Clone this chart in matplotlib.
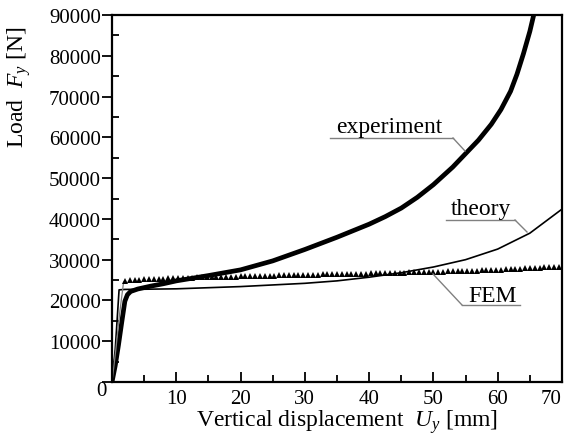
import matplotlib
matplotlib.use("Agg")
import matplotlib.pyplot as plt
import numpy as np

plt.rcParams['font.family'] = ['Liberation Serif', 'DejaVu Serif']
plt.rcParams['mathtext.fontset'] = 'custom'
plt.rcParams['mathtext.rm'] = 'Liberation Serif'
plt.rcParams['mathtext.it'] = 'Liberation Serif:italic'

# Experiment
exp_x = [0, 0.5, 1.0, 1.5, 2.0, 2.4, 2.9, 4, 6, 8, 10, 15, 20, 25, 30, 35, 40, 42.5, 45, 47.5,
         50, 53, 55, 57, 59, 60.5, 62, 63, 64, 65, 65.6]
exp_y = [0, 4000, 9000, 14500, 19800, 21400, 22200, 22800, 23500, 24100, 24800, 26100, 27500,
         29700, 32500, 35500, 38700, 40550, 42650, 45300, 48400, 52700, 56000, 59300, 63200,
         66800, 71300, 75500, 80500, 86000, 90000]

# Theory
th_x = [0, 0.5, 1.1, 2, 5, 10, 20, 30, 35, 40, 45, 50, 55, 60, 65, 70]
th_y = [0, 8000, 22600, 22700, 22750, 22850, 23400, 24200, 24800, 25700, 26800, 28200,
        30000, 32600, 36500, 42400]

# FEM
fem_x = [2, 5, 10, 20, 30, 37, 50, 60, 70]
fem_y = [24800, 25200, 25500, 25900, 26300, 26500, 27000, 27500, 28300]
fem_init_x = [0, 0.6, 1.2, 1.8]
fem_init_y = [0, 8000, 17000, 24500]

fig = plt.figure(figsize=(5.7, 4.35), dpi=100)
ax = fig.add_axes([112/570, 1-383/435, 450/570, 367/435])

ax.plot(exp_x, exp_y, color='black', lw=3.4, solid_capstyle='butt', solid_joinstyle='round')
ax.plot(th_x, th_y, color='black', lw=1.2)
ax.plot(fem_init_x, fem_init_y, color='gray', lw=0.9)
fx = np.arange(2, 70.01, 0.75)
fy = np.interp(fx, fem_x, fem_y)
ax.plot(fx, fy, linestyle='none', marker='^', ms=4.2, color='black', mew=0)

ax.set_xlim(0, 70)
ax.set_ylim(0, 90000)
ax.set_xticks(np.arange(0, 71, 10))
ax.set_xticklabels([''] + [str(v) for v in range(10, 71, 10)])
ax.get_xticklabels()[-1].set_horizontalalignment('right')
ax.set_xticks(np.arange(5, 70, 10), minor=True)
ax.set_yticks(np.arange(0, 90001, 10000))
ax.set_yticklabels([''] + [str(v) for v in range(10000, 90001, 10000)])
ax.set_yticks(np.arange(5000, 90000, 10000), minor=True)
ax.tick_params(axis='x', which='major', direction='in', length=7, width=1.3, labelsize=15, pad=5)
ax.tick_params(axis='x', which='minor', direction='in', length=5, width=1.3)
ax.tick_params(axis='y', which='major', direction='out', length=7, width=1.3, labelsize=15, pad=1)
ax.tick_params(axis='y', which='minor', direction='in', length=5, width=1.3)
for s in ax.spines.values():
    s.set_linewidth(1.6)

ax.text(-0.012, -0.022, '0', transform=ax.transAxes, fontsize=15, ha='right', va='center')

ax.set_xlabel(r'Vertical displacement  $U_y$ [mm]', fontsize=17)
ax.xaxis.set_label_coords(0.523, -0.068)
ax.set_ylabel(r'Load  $F_y$ [N]', fontsize=17)
ax.yaxis.set_label_coords(-0.176, 0.805)

# annotations
def px2data(px, py):
    return ((px - 112) / 450 * 70, (383 - py) / 367 * 90000)

def label(text, tx, ty, ul_x0, ul_x1, ul_y, lead):
    x, y = px2data(tx, ty)
    ax.text(x, y, text, fontsize=17, ha='center', va='baseline')
    a0 = px2data(ul_x0, ul_y)
    a1 = px2data(ul_x1, ul_y)
    ax.plot([a0[0], a1[0]], [a0[1], a1[1]], color='gray', lw=1)
    p, q = lead
    b0 = px2data(*p)
    b1 = px2data(*q)
    ax.plot([b0[0], b1[0]], [b0[1], b1[1]], color='gray', lw=1)

label('experiment', 389, 133, 330, 453, 139, ((453, 139), (465, 152)))
label('theory', 481, 215, 446, 515, 221, ((515, 221), (527, 233)))
label('FEM', 493, 302, 462, 520, 306, ((462, 306), (433, 275)))

fig.savefig('out.png', dpi=100)
